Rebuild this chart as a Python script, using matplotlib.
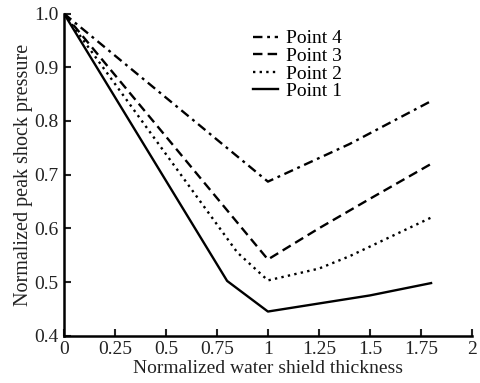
import numpy as np
import matplotlib
matplotlib.use("Agg")
import matplotlib.pyplot as plt

plt.rcParams['font.family'] = ['Liberation Serif', 'DejaVu Serif']
plt.rcParams['mathtext.fontset'] = 'stix'

# 数据: 归一化水层厚度 vs 归一化峰值冲击压力
x_p1 = [0, 0.8, 1.0, 1.5, 1.8]
y_p1 = [1.0, 0.502, 0.445, 0.475, 0.498]

x_p2 = [0, 0.85, 1.0, 1.25, 1.4, 1.8]
y_p2 = [1.0, 0.555, 0.503, 0.525, 0.548, 0.62]

x_p3 = [0, 1.0, 1.25, 1.5, 1.8]
y_p3 = [1.0, 0.542, 0.60, 0.655, 0.72]

x_p4 = [0, 1.0, 1.4, 1.8]
y_p4 = [1.0, 0.687, 0.757, 0.837]

xticks = [0, 0.25, 0.5, 0.75, 1, 1.25, 1.5, 1.75, 2]
xtick_labels = ['0', '0.25', '0.5', '0.75', '1', '1.25', '1.5', '1.75', '2']
yticks = [0.4, 0.5, 0.6, 0.7, 0.8, 0.9, 1.0]
ytick_labels = ['0.4', '0.5', '0.6', '0.7', '0.8', '0.9', '1.0']

fig = plt.figure(figsize=(4.81, 3.83), dpi=100)
ax = fig.add_axes([0.133, 0.1235, 0.848, 0.841])

lw = 1.7
ax.plot(x_p4, y_p4, color='black', lw=lw, dashes=(4, 2, 1.2, 2), label='Point 4')
ax.plot(x_p3, y_p3, color='black', lw=lw, dashes=(4, 2.2), label='Point 3')
ax.plot(x_p2, y_p2, color='black', lw=lw, dashes=(1, 1.8), label='Point 2')
ax.plot(x_p1, y_p1, color='black', lw=lw, label='Point 1')

ax.set_xlim(0, 2)
ax.set_ylim(0.4, 1.0)
ax.set_xticks(xticks)
ax.set_xticklabels(xtick_labels)
ax.set_yticks(yticks)
ax.set_yticklabels(ytick_labels)

for s in ['top', 'right']:
    ax.spines[s].set_visible(False)
for s in ['left', 'bottom']:
    ax.spines[s].set_linewidth(1.8)
ax.tick_params(direction='in', length=5, width=1.5, labelsize=14, colors='#222222', pad=4)

ax.set_xlabel('Normalized water shield thickness', fontsize=14, color='#222222', labelpad=1)
ax.set_ylabel('Normalized peak shock pressure', fontsize=14.5, color='#222222', labelpad=1)

ax.legend(loc='upper left', bbox_to_anchor=(0.44, 0.98), frameon=False, fontsize=14,
          handlelength=1.3, handletextpad=0.4, labelspacing=0.0, borderpad=0)

fig.savefig('out.png', dpi=100)
